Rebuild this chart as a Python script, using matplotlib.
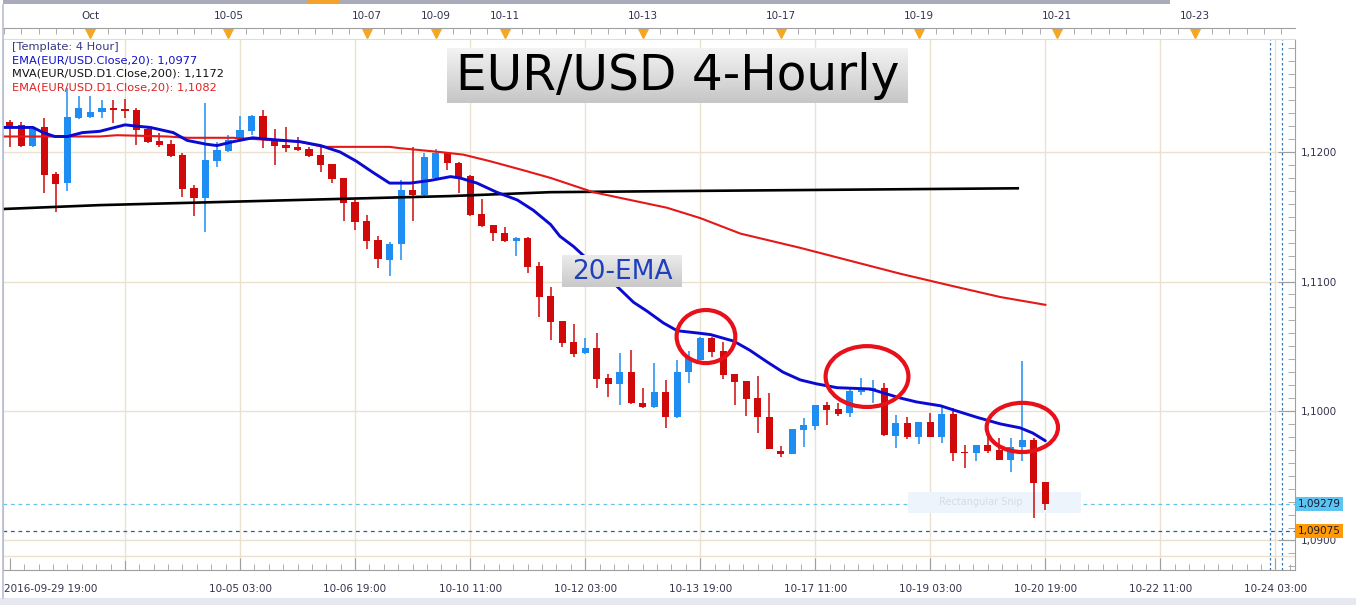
import numpy as np
import matplotlib
matplotlib.use("Agg")
import matplotlib.pyplot as plt
from matplotlib.patches import Ellipse, Rectangle
from matplotlib.ticker import FixedLocator, MultipleLocator
from matplotlib.transforms import ScaledTranslation

plt.rcParams["font.family"] = ["DejaVu Sans"]

# 4-hour EUR/USD candles, bar 0 = 2016-09-29 19:00
opens = [1.12232, 1.12208, 1.12046, 1.12193, 1.11830, 1.11761, 1.12263, 1.12270, 1.12309, 1.12340,
         1.12332, 1.12324, 1.12178, 1.12085, 1.12062, 1.11977, 1.11722, 1.11645, 1.11931, 1.12008,
         1.12108, 1.12162, 1.12278, 1.12093, 1.12054, 1.12039, 1.12023, 1.11977, 1.11907, 1.11799,
         1.11614, 1.11467, 1.11320, 1.11166, 1.11290, 1.11707, 1.11668, 1.11799, 1.11992, 1.11915,
         1.11815, 1.11521, 1.11436, 1.11375, 1.11313, 1.11336, 1.11120, 1.10888, 1.10695, 1.10533,
         1.10448, 1.10486, 1.10255, 1.10208, 1.10301, 1.10062, 1.10031, 1.10147, 1.09954, 1.10301,
         1.10394, 1.10564, 1.10463, 1.10286, 1.10232, 1.10100, 1.09954, 1.09691, 1.09668, 1.09853,
         1.09884, 1.10046, 1.10015, 1.09985, 1.10147, 1.10154, 1.10178, 1.09807, 1.09907, 1.09799,
         1.09915, 1.09799, 1.09977, 1.09683, 1.09676, 1.09737, 1.09699, 1.09622, 1.09722, 1.09776,
         1.09452]
highs = [1.12247, 1.12232, 1.12193, 1.12263, 1.11846, 1.12494, 1.12432, 1.12432, 1.12402, 1.12402,
         1.12409, 1.12340, 1.12201, 1.12147, 1.12093, 1.11992, 1.11745, 1.12378, 1.12077, 1.12131,
         1.12278, 1.12285, 1.12324, 1.12178, 1.12193, 1.12116, 1.12039, 1.12039, 1.11907, 1.11799,
         1.11629, 1.11514, 1.11351, 1.11305, 1.11784, 1.12039, 1.11992, 1.12023, 1.12000, 1.11923,
         1.11822, 1.11637, 1.11436, 1.11421, 1.11344, 1.11344, 1.11151, 1.10958, 1.10695, 1.10672,
         1.10564, 1.10602, 1.10286, 1.10448, 1.10471, 1.10178, 1.10371, 1.10239, 1.10394, 1.10463,
         1.10571, 1.10571, 1.10533, 1.10286, 1.10232, 1.10270, 1.10139, 1.09730, 1.09861, 1.09946,
         1.10046, 1.10069, 1.10062, 1.10185, 1.10255, 1.10239, 1.10216, 1.09969, 1.09954, 1.09915,
         1.09985, 1.10039, 1.10023, 1.09737, 1.09737, 1.09799, 1.09792, 1.09792, 1.10386, 1.09792,
         1.09452]
lows = [1.12039, 1.12039, 1.12039, 1.11683, 1.11537, 1.11699, 1.12255, 1.12263, 1.12263, 1.12224,
        1.12263, 1.12054, 1.12070, 1.12039, 1.11961, 1.11653, 1.11506, 1.11382, 1.11884, 1.12000,
        1.12093, 1.12131, 1.12031, 1.11900, 1.12000, 1.12008, 1.11961, 1.11846, 1.11761, 1.11467,
        1.11398, 1.11251, 1.11104, 1.11042, 1.11166, 1.11467, 1.11645, 1.11784, 1.11861, 1.11683,
        1.11506, 1.11421, 1.11313, 1.11305, 1.11197, 1.11066, 1.10726, 1.10548, 1.10494, 1.10417,
        1.10440, 1.10178, 1.10108, 1.10046, 1.10054, 1.10023, 1.10023, 1.09869, 1.09946, 1.10216,
        1.10394, 1.10417, 1.10247, 1.10046, 1.09961, 1.09830, 1.09707, 1.09645, 1.09668, 1.09722,
        1.09853, 1.09892, 1.09961, 1.09954, 1.10124, 1.10062, 1.09807, 1.09714, 1.09784, 1.09745,
        1.09799, 1.09753, 1.09614, 1.09560, 1.09614, 1.09676, 1.09622, 1.09529, 1.09614, 1.09174,
        1.09236]
closes = [1.12185, 1.12046, 1.12178, 1.11822, 1.11753, 1.12270, 1.12340, 1.12309, 1.12340, 1.12324,
          1.12317, 1.12170, 1.12077, 1.12054, 1.11969, 1.11714, 1.11645, 1.11938, 1.12015, 1.12093,
          1.12170, 1.12278, 1.12093, 1.12046, 1.12031, 1.12015, 1.11969, 1.11900, 1.11791, 1.11606,
          1.11459, 1.11313, 1.11174, 1.11290, 1.11707, 1.11668, 1.11961, 1.11992, 1.11915, 1.11807,
          1.11514, 1.11429, 1.11375, 1.11313, 1.11336, 1.11112, 1.10880, 1.10687, 1.10525, 1.10440,
          1.10486, 1.10247, 1.10208, 1.10301, 1.10062, 1.10031, 1.10147, 1.09954, 1.10301, 1.10409,
          1.10564, 1.10456, 1.10278, 1.10224, 1.10093, 1.09954, 1.09707, 1.09668, 1.09861, 1.09892,
          1.10046, 1.10008, 1.09977, 1.10154, 1.10178, 1.10178, 1.09815, 1.09907, 1.09799, 1.09915,
          1.09799, 1.09977, 1.09676, 1.09676, 1.09737, 1.09691, 1.09622, 1.09722, 1.09776, 1.09444,
          1.09279]

# indicator lines (bar position, price)
ema4h_bars = [-0.6, 2.0, 2.9, 3.9, 5.0, 6.3, 7.8, 10.0, 11.0, 12.2, 14.2, 15.4, 17.1, 18.0, 19.4,
              21.1, 22.3, 23.7, 25.2, 27.0, 28.7, 30.1, 31.6, 33.0, 34.8, 36.5, 38.3, 39.1, 40.6,
              42.3, 44.1, 45.5, 47.0, 47.8, 49.0, 52.8, 54.2, 55.4, 56.8, 58.0, 60.0, 60.9, 62.9,
              64.3, 65.8, 67.2, 68.7, 70.1, 71.9, 74.8, 75.9, 77.4, 78.8, 80.9, 82.3, 84.1, 86.1,
              87.8, 88.9, 90.0]
ema4h_vals = [1.1219, 1.1219, 1.1215, 1.1212, 1.1212, 1.1215, 1.1216, 1.1221, 1.1220, 1.1219,
              1.1215, 1.1209, 1.1206, 1.1205, 1.1208, 1.1211, 1.1210, 1.1209, 1.1208, 1.1205,
              1.1200, 1.1193, 1.1184, 1.1176, 1.1176, 1.1178, 1.1181, 1.1180, 1.1176, 1.1169,
              1.1163, 1.1155, 1.1144, 1.1135, 1.1127, 1.1096, 1.1084, 1.1077, 1.1068, 1.1062,
              1.1060, 1.1059, 1.1054, 1.1047, 1.1038, 1.1030, 1.1024, 1.1021, 1.1018, 1.1017,
              1.1014, 1.1010, 1.1007, 1.1004, 1.1000, 1.0995, 1.0990, 1.0987, 1.0983, 1.0977]
ema_d1_bars = [-0.6, 3.5, 7.8, 9.3, 13.7, 15.4, 19.4, 25.2, 27.2, 33.0, 33.9, 37.4, 39.4, 41.7,
               44.6, 47.0, 50.7, 57.1, 60.0, 63.5, 68.7, 77.4, 81.7, 86.1, 90.0]
ema_d1_vals = [1.1212, 1.1212, 1.1212, 1.1213, 1.1212, 1.1211, 1.1211, 1.1208, 1.1204, 1.1204,
               1.1203, 1.1200, 1.1198, 1.1193, 1.1186, 1.1180, 1.1169, 1.1157, 1.1149, 1.1137,
               1.1126, 1.1106, 1.1097, 1.1088, 1.1082]
mva_d1_bars = [-0.6, 7.8, 16.5, 25.2, 38.3, 47.0, 60.0, 87.6]
mva_d1_vals = [1.1156, 1.1159, 1.1161, 1.1163, 1.1166, 1.1169, 1.1170, 1.1172]

# circled touches of the 20-EMA: (bar, price, width in bars, height in price)
highlights = [(60.5, 1.10575, 5.1, 0.0041), (74.5, 1.10266, 7.2, 0.0047), (88.0, 1.09873, 6.2, 0.0038)]

bottom_label_bars = [0, 20, 30, 40, 50, 60, 70, 80, 90, 100, 110]
bottom_labels = ["2016-09-29 19:00", "10-05 03:00", "10-06 19:00", "10-10 11:00", "10-12 03:00",
                 "10-13 19:00", "10-17 11:00", "10-19 03:00", "10-20 19:00", "10-22 11:00", "10-24 03:00"]
top_label_bars = [7, 19, 31, 37, 43, 55, 67, 79, 91, 103]
top_labels = ["Oct", "10-05", "10-07", "10-09", "10-11", "10-13", "10-17", "10-19", "10-21", "10-23"]
price_ticks = [1.09, 1.10, 1.11, 1.12]
price_labels = ["1,0900", "1,1000", "1,1100", "1,1200"]
last_bid = 1.09279
last_ask = 1.09075

W, H = 1356, 605
XLIM = (-0.6, 111.7)
BULL = "#1e8ef2"
BEAR = "#d00a0a"
GRID = "#ebe1cf"
TXT = "#33334d"


def fx(px):
    return px / W


def fy(py):
    return 1 - py / H


def gradient_box(fig, x0, y0, x1, y1, top, bottom):
    bax = fig.add_axes([fx(x0), fy(y1), fx(x1) - fx(x0), fy(y0) - fy(y1)])
    c0 = np.array(matplotlib.colors.to_rgb(top))
    c1 = np.array(matplotlib.colors.to_rgb(bottom))
    t = np.linspace(0, 1, 64)[:, None, None]
    img = c0 * (1 - t) + c1 * t
    bax.imshow(img, aspect="auto", extent=(0, 1, 0, 1))
    bax.set_axis_off()
    return bax


def main() -> None:
    fig = plt.figure(figsize=(W / 100, H / 100), dpi=100)
    fig.patch.set_facecolor("white")

    # window chrome: scroll bar at top, pale band at bottom, left border
    fig.patches.append(Rectangle((fx(3), fy(4)), fx(1170) - fx(3), 4 / H,
                                 transform=fig.transFigure, facecolor="#a9abbb", edgecolor="none"))
    fig.patches.append(Rectangle((fx(307), fy(4)), fx(340) - fx(307), 4 / H,
                                 transform=fig.transFigure, facecolor="#f5a22a", edgecolor="none"))
    fig.patches.append(Rectangle((0, 0), 1, 7 / H, transform=fig.transFigure,
                                 facecolor="#e6e8f1", edgecolor="none"))
    fig.lines.append(plt.Line2D([fx(3), fx(3)], [fy(598), fy(5)], transform=fig.transFigure,
                                color="#b9bdd2", lw=1.2))

    ax = fig.add_axes([fx(3), fy(570), fx(1295) - fx(3), fy(39) - fy(570)])
    ax.set_xlim(*XLIM)
    ax.set_ylim(1.08772, 1.12873)

    # -------- grid --------
    for b in range(10, 120, 10):
        ax.axvline(b, color=GRID, lw=1, zorder=0)
    for p in price_ticks:
        ax.axhline(p, color=GRID, lw=1, zorder=0)
    ax.axhline(1.0888, color=GRID, lw=1, zorder=0)

    # -------- candles --------
    idx = np.arange(len(opens))
    o = np.array(opens)
    c = np.array(closes)
    cols = [BULL if cc >= oo else BEAR for oo, cc in zip(o, c)]
    ax.vlines(idx, lows, highs, colors=cols, lw=1.1, zorder=2)
    body = np.maximum(np.abs(c - o), 0.00005)
    ax.bar(idx, body, bottom=np.minimum(o, c), width=0.62, color=cols, zorder=3)

    # -------- indicators --------
    ax.plot(mva_d1_bars, mva_d1_vals, color="#000000", lw=1.9, zorder=4)
    ax.plot(ema_d1_bars, ema_d1_vals, color="#e41818", lw=1.5, zorder=4)
    ax.plot(ema4h_bars, ema4h_vals, color="#0a0ad2", lw=2.1, zorder=5,
            solid_joinstyle="round", solid_capstyle="round")

    for (b, p, w, h) in highlights:
        ax.add_patch(Ellipse((b, p), w, h, fill=False, edgecolor="#e8101a", lw=3.0, zorder=6))

    # last price lines and markers
    ax.axhline(last_bid, color="#66c2e6", lw=0.9, ls=(0, (3, 3)), zorder=1)
    ax.axhline(last_ask, color="#23609e", lw=0.9, ls=(0, (3, 3)), zorder=1)
    ax.axvline(109.5, color="#3a78b5", lw=0.9, ls=(0, (2, 2)), zorder=1)
    ax.axvline(110.6, color="#3a78b5", lw=0.9, ls=(0, (2, 2)), zorder=1)

    # faint snipping tool ghost
    ax.add_patch(Rectangle((78.1, 1.09216), 15.0, 0.00158, facecolor="#eef4fb",
                           edgecolor="none", zorder=1))
    ax.text(80.8, 1.09295, "Rectangular Snip", fontsize=7, color="#d3dde8", va="center", zorder=1)

    # -------- axes styling --------
    ax.spines["left"].set_color("#b9bdd2")
    ax.spines["top"].set_color("#e8dcc8")
    ax.spines["right"].set_color("#a0a0a0")
    ax.spines["bottom"].set_color("#a0a0a0")

    ax.yaxis.tick_right()
    ax.set_yticks(price_ticks)
    ax.set_yticklabels(price_labels)
    ax.yaxis.set_minor_locator(MultipleLocator(0.001))
    ax.tick_params(axis="y", which="major", direction="in", length=12, pad=4,
                   labelsize=7.5, labelcolor=TXT, color="#a0a0a0")
    ax.tick_params(axis="y", which="minor", direction="in", length=5, color="#a0a0a0")

    ax.xaxis.set_major_locator(FixedLocator(bottom_label_bars))
    ax.set_xticklabels(bottom_labels)
    ax.xaxis.set_minor_locator(MultipleLocator(1.25))
    ax.tick_params(axis="x", which="major", direction="in", length=9, pad=10,
                   labelsize=7.5, labelcolor=TXT, color="#a0a0a0")
    ax.tick_params(axis="x", which="minor", direction="in", length=4, color="#a0a0a0")
    first = ax.get_xticklabels()[0]
    first.set_horizontalalignment("left")
    first.set_transform(first.get_transform() + ScaledTranslation(-6 / 100, 0, fig.dpi_scale_trans))
    # unlabeled major tick at bar 10
    ax.axvline(10, ymin=0, ymax=9 / 531, color="#a0a0a0", lw=0.8)

    # last price boxes on the price scale
    ax.text(1.002, last_bid, "1,09279", transform=ax.get_yaxis_transform(), fontsize=7.5,
            color="#1a1a33", va="center", ha="left",
            bbox=dict(boxstyle="square,pad=0.2", facecolor="#5ac4f2", edgecolor="none"))
    ax.text(1.002, last_ask, "1,09075", transform=ax.get_yaxis_transform(), fontsize=7.5,
            color="#1a1a33", va="center", ha="left",
            bbox=dict(boxstyle="square,pad=0.2", facecolor="#ff9a05", edgecolor="none"))

    # -------- top date strip --------
    top = fig.add_axes([fx(3), fy(39), fx(1295) - fx(3), fy(28) - fy(39)])
    top.set_xlim(*XLIM)
    top.set_ylim(0, 1)
    top.patch.set_alpha(0)
    for side in ["left", "right", "bottom"]:
        top.spines[side].set_visible(False)
    top.spines["top"].set_color("#a0a0a0")
    top.xaxis.tick_top()
    top.set_yticks([])
    top.xaxis.set_major_locator(FixedLocator(top_label_bars))
    top.xaxis.set_minor_locator(FixedLocator(np.arange(-0.5, 112, 1.5)))
    top.set_xticklabels(top_labels)
    top.tick_params(axis="x", which="major", direction="in", length=0, pad=5,
                    labelsize=7.5, labelcolor=TXT)
    top.tick_params(axis="x", which="minor", direction="in", length=4, color="#a0a0a0")
    top.plot(top_label_bars, [0.62] * len(top_label_bars), ls="none", marker="v",
             ms=8, color="#f5a623", mec="#f5a623")

    # -------- legend text --------
    legend_lines = [("[Template: 4 Hour]", "#3a3a80"),
                    ("EMA(EUR/USD.Close,20): 1,0977", "#1010c8"),
                    ("MVA(EUR/USD.D1.Close,200): 1,1172", "#111111"),
                    ("EMA(EUR/USD.D1.Close,20): 1,1082", "#e02020")]
    for k, (s, col) in enumerate(legend_lines):
        fig.text(fx(12), fy(47 + 13.4 * k), s, fontsize=8.2, color=col, va="center", ha="left")

    # -------- annotation boxes --------
    tb = gradient_box(fig, 447, 48, 908, 103, "#f3f3f3", "#c6c6c6")
    tb.text(0.5, 0.5, "EUR/USD 4-Hourly", fontsize=35, color="#000000",
            ha="center", va="center", transform=tb.transAxes)
    eb = gradient_box(fig, 562, 255, 682, 287, "#ececec", "#c9c9c9")
    eb.text(0.5, 0.47, "20-EMA", fontsize=19, color="#1f3fbf",
            ha="center", va="center", transform=eb.transAxes)

    fig.savefig("out.png", dpi=100)
    plt.close(fig)


if __name__ == "__main__":
    main()
